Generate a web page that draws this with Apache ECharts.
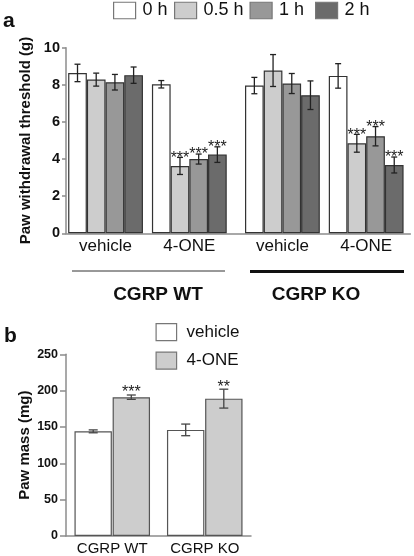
<!DOCTYPE html>
<html><head><meta charset="utf-8">
<script src="https://cdn.jsdelivr.net/npm/echarts@6/dist/echarts.min.js"></script>
<style>html,body{margin:0;padding:0;background:#fff}#c{width:414px;height:556px}</style>
</head><body><div id="c"></div>
<script>
// ---------- Panel a data ----------
const groupLabels = ['vehicle', '4-ONE', 'vehicle', '4-ONE'];
const timeNames = ['0 h', '0.5 h', '1 h', '2 h'];
const thr0h  = [8.64, 8.03, 7.96, 8.48];
const thr05h = [8.28, 3.63, 8.77, 4.85];
const thr1h  = [8.14, 4.00, 8.07, 5.23];
const thr2h  = [8.52, 4.24, 7.44, 3.68];
const err0h  = [0.47, 0.20, 0.44, 0.66];
const err05h = [0.35, 0.46, 0.86, 0.48];
const err1h  = [0.42, 0.27, 0.54, 0.52];
const err2h  = [0.44, 0.42, 0.77, 0.43];
const sig0h  = ['', '', '', ''];
const sig05h = ['', '***', '', '***'];
const sig1h  = ['', '***', '', '***'];
const sig2h  = ['', '***', '', '***'];
const genotypeLabels = ['CGRP WT', 'CGRP KO'];
const yMinA = 0, yMaxA = 10, yStepA = 2;

// ---------- Panel b data ----------
const massCategories = ['CGRP WT', 'CGRP KO'];
const massNames = ['vehicle', '4-ONE'];
const massVehicle = [144, 146];
const massVehicleErr = [2, 8];
const mass4ONE = [191, 189];
const mass4ONEErr = [3, 13];
const massVehicleSig = ['', ''];
const mass4ONESig = ['***', '**'];
const yMinB = 0, yMaxB = 250, yStepB = 50;

// ---------- layout helpers ----------
const FONT = '"Liberation Sans", Arial, sans-serif';
const SLOTS = 74;
const groupSlot = [8, 26, 46, 64];
const cats = Array.from({length: SLOTS}, (_, i) => 's' + i);
const labelAt = {};
groupSlot.forEach((s, i) => { labelAt[s] = groupLabels[i]; });
const BW_A = 18.7;
const BW_B = 37.4;
const fillsA = ['#ffffff', '#cdcdcd', '#989898', '#6b6b6b'];
const fillsB = ['#ffffff', '#cdcdcd'];

const valsA = [thr0h, thr05h, thr1h, thr2h];
const errsA = [err0h, err05h, err1h, err2h];
const sigsA = [sig0h, sig05h, sig1h, sig2h];
const valsB = [massVehicle, mass4ONE];
const errsB = [massVehicleErr, mass4ONEErr];
const sigsB = [massVehicleSig, mass4ONESig];

function padded(arr) {
  const d = Array(SLOTS).fill(null);
  groupSlot.forEach((s, i) => { d[s] = arr[i]; });
  return d;
}

const series = [];
timeNames.forEach((name, k) => {
  series.push({
    type: 'bar', name, xAxisIndex: 0, yAxisIndex: 0,
    data: padded(valsA[k]), barWidth: BW_A, barGap: '0%',
    itemStyle: {color: fillsA[k], borderColor: '#333', borderWidth: 1.2},
    silent: true, animation: false
  });
});
const errItemsA = [];
timeNames.forEach((name, k) => {
  groupSlot.forEach((s, g) => {
    errItemsA.push({value: [s, valsA[k][g], errsA[k][g], k], sig: sigsA[k][g]});
  });
});
series.push({
  type: 'custom', xAxisIndex: 0, yAxisIndex: 0, z: 5, silent: true, animation: false,
  encode: {x: 0, y: 1},
  data: errItemsA,
  renderItem(params, api) {
    const slot = api.value(0), v = api.value(1), e = api.value(2), k = api.value(3);
    const base = api.coord([slot, v]);
    const x = base[0] + (k - 1.5) * BW_A;
    const yt = api.coord([slot, v + e])[1];
    const yb = api.coord([slot, v - e])[1];
    const st = {stroke: '#222', lineWidth: 1.3};
    const ch = [
      {type: 'line', shape: {x1: x, y1: yt, x2: x, y2: yb}, style: st},
      {type: 'line', shape: {x1: x - 3, y1: yt, x2: x + 3, y2: yt}, style: st},
      {type: 'line', shape: {x1: x - 3, y1: yb, x2: x + 3, y2: yb}, style: st}
    ];
    const sig = errItemsA[params.dataIndex].sig;
    if (sig) ch.push({type: 'text', style: {text: sig, x: x, y: yt - 7, align: 'center', verticalAlign: 'top', font: '16px ' + FONT, fill: '#222'}});
    return {type: 'group', children: ch};
  }
});

massNames.forEach((name, k) => {
  series.push({
    type: 'bar', name, xAxisIndex: 1, yAxisIndex: 1,
    data: valsB[k], barWidth: BW_B, barGap: '2%',
    itemStyle: {color: fillsB[k], borderColor: '#555', borderWidth: 1.2},
    silent: true, animation: false
  });
});
const errItemsB = [];
massNames.forEach((name, k) => {
  massCategories.forEach((c, g) => {
    errItemsB.push({value: [g, valsB[k][g], errsB[k][g], k], sig: sigsB[k][g]});
  });
});
series.push({
  type: 'custom', xAxisIndex: 1, yAxisIndex: 1, z: 5, silent: true, animation: false,
  encode: {x: 0, y: 1},
  data: errItemsB,
  renderItem(params, api) {
    const c = api.value(0), v = api.value(1), e = api.value(2), k = api.value(3);
    const base = api.coord([c, v]);
    const x = base[0] + (k - 0.5) * (BW_B + 0.7);
    const yt = api.coord([c, v + e])[1];
    const yb = api.coord([c, v - e])[1];
    const st = {stroke: '#444', lineWidth: 1.3};
    const ch = [
      {type: 'line', shape: {x1: x, y1: yt, x2: x, y2: yb}, style: st},
      {type: 'line', shape: {x1: x - 4.5, y1: yt, x2: x + 4.5, y2: yt}, style: st},
      {type: 'line', shape: {x1: x - 4.5, y1: yb, x2: x + 4.5, y2: yb}, style: st}
    ];
    const sig = errItemsB[params.dataIndex].sig;
    if (sig) ch.push({type: 'text', style: {text: sig, x: x, y: yt - 10, align: 'center', verticalAlign: 'top', font: '16px ' + FONT, fill: '#222'}});
    return {type: 'group', children: ch};
  }
});

const axisLineStyle = {color: '#8c8c8c', width: 1.5};

const legA = [113, 174, 249.5, 315].map((left, i) => ({
  data: [timeNames[i]], left: left, top: 1.5, padding: 0, orient: 'horizontal',
  itemWidth: 22, itemHeight: 16.5, selectedMode: false, icon: 'rect',
  itemStyle: {borderColor: '#777', borderWidth: 1.2},
  textStyle: {fontFamily: FONT, fontSize: 18, color: '#111', padding: [0, 0, 0, 2]}
}));
const legB = [323, 351.5].map((top, i) => ({
  data: [massNames[i]], left: 155.5, top: top, padding: 0,
  itemWidth: 20.5, itemHeight: 17, selectedMode: false, icon: 'rect',
  itemStyle: {borderColor: '#777', borderWidth: 1.2},
  textStyle: {fontFamily: FONT, fontSize: 17, color: '#111', padding: [0, 0, 0, 5]}
}));

const option = {
  backgroundColor: '#fff',
  animation: false,
  textStyle: {fontFamily: FONT},
  legend: legA.concat(legB),
  grid: [
    {left: 66, top: 47.7, width: SLOTS * 4.654, height: 185.6, containLabel: false},
    {left: 66, top: 354.3, width: 185, height: 185.7, containLabel: false}
  ],
  xAxis: [
    {type: 'category', gridIndex: 0, data: cats, boundaryGap: true,
     axisLine: {show: true, lineStyle: axisLineStyle}, axisTick: {show: false},
     axisLabel: {interval: 0, margin: 5, fontSize: 17, color: '#111', fontFamily: FONT,
                 formatter: (v, idx) => labelAt[idx] || ''},
     splitLine: {show: false}},
    {type: 'category', gridIndex: 1, data: massCategories, boundaryGap: true,
     axisLine: {show: true, lineStyle: axisLineStyle}, axisTick: {show: false},
     axisLabel: {interval: 0, margin: 5, fontSize: 15, color: '#111', fontFamily: FONT},
     splitLine: {show: false}}
  ],
  yAxis: [
    {type: 'value', gridIndex: 0, min: yMinA, max: yMaxA, interval: yStepA,
     name: 'Paw withdrawal threshold (g)', nameLocation: 'middle', nameGap: 28,
     nameTextStyle: {fontSize: 15, fontWeight: 'bold', color: '#111', fontFamily: FONT},
     axisLine: {show: true, lineStyle: axisLineStyle},
     axisTick: {show: true, length: 4, lineStyle: axisLineStyle},
     axisLabel: {margin: 6, fontSize: 14.5, fontWeight: 'bold', color: '#111', fontFamily: FONT},
     splitLine: {show: false}},
    {type: 'value', gridIndex: 1, min: yMinB, max: yMaxB, interval: yStepB,
     name: 'Paw mass (mg)', nameLocation: 'middle', nameGap: 34,
     nameTextStyle: {fontSize: 15, fontWeight: 'bold', color: '#111', fontFamily: FONT},
     axisLine: {show: true, lineStyle: axisLineStyle},
     axisTick: {show: true, length: 6, lineStyle: axisLineStyle},
     axisLabel: {margin: 8, fontSize: 12.5, fontWeight: 'bold', color: '#111', fontFamily: FONT},
     splitLine: {show: false}}
  ],
  graphic: [
    {type: 'text', left: 3, top: 11, style: {text: 'a', font: 'bold 21px ' + FONT, fill: '#111'}},
    {type: 'text', left: 4, top: 326, style: {text: 'b', font: 'bold 21px ' + FONT, fill: '#111'}},
    {type: 'line', shape: {x1: 72, y1: 271, x2: 225, y2: 271}, style: {stroke: '#333', lineWidth: 1}},
    {type: 'line', shape: {x1: 250, y1: 271.5, x2: 404, y2: 271.5}, style: {stroke: '#111', lineWidth: 3}},
    {type: 'text', x: 158, y: 295, style: {text: genotypeLabels[0], font: 'bold 19px ' + FONT, fill: '#111', align: 'center', verticalAlign: 'middle'}},
    {type: 'text', x: 316, y: 295, style: {text: genotypeLabels[1], font: 'bold 19px ' + FONT, fill: '#111', align: 'center', verticalAlign: 'middle'}}
  ],
  series
};
const chart = echarts.init(document.getElementById('c'), null, {renderer: 'canvas'});
chart.setOption(option);
</script>
</body></html>
